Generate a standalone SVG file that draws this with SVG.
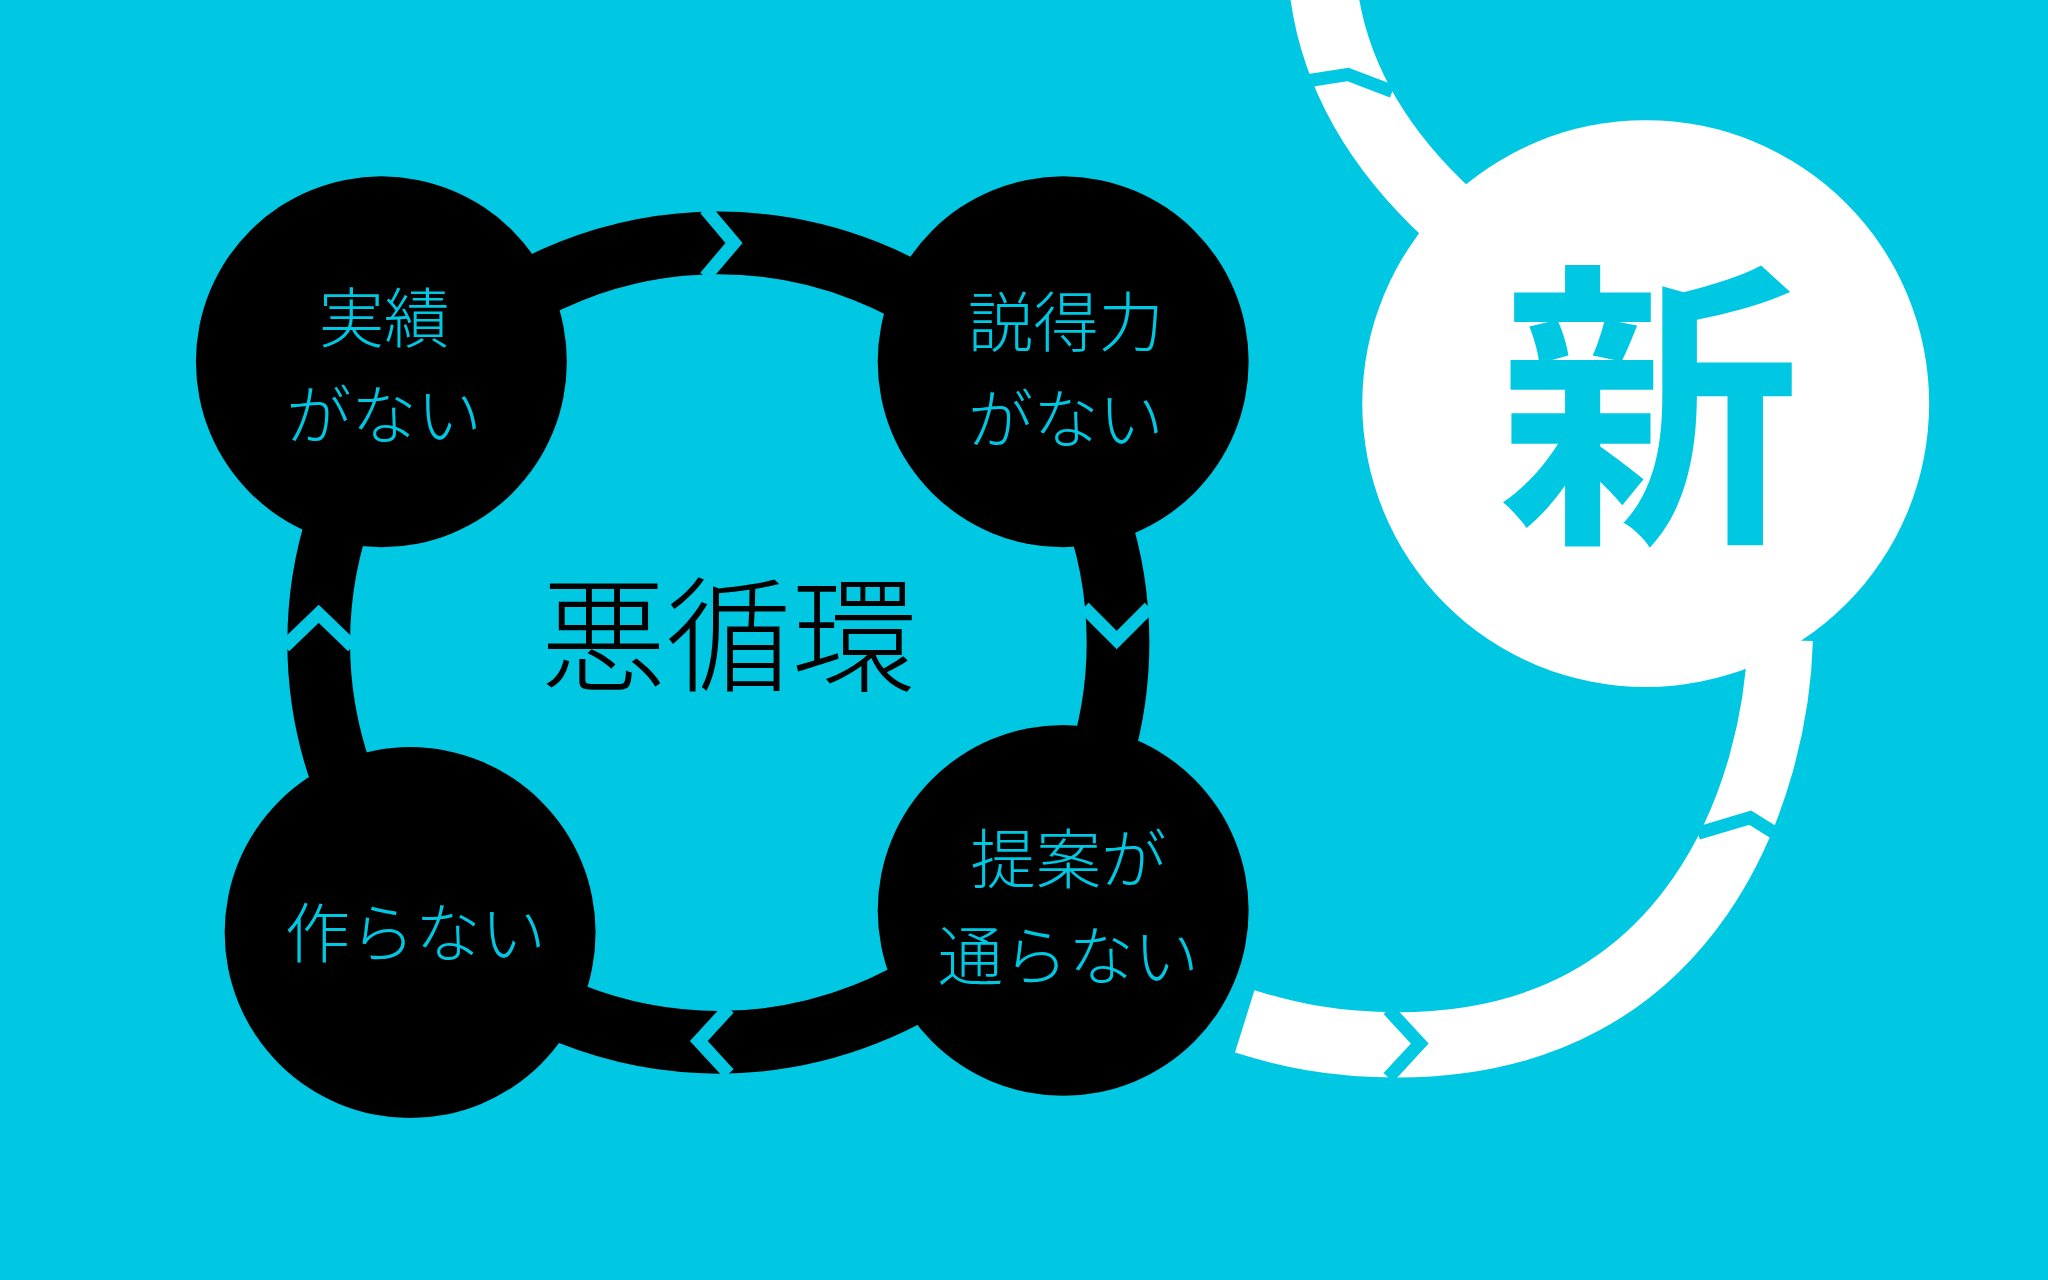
<svg xmlns="http://www.w3.org/2000/svg" width="2048" height="1280" viewBox="0 0 2048 1280">
<style>
.lbl{font-family:"Noto Sans CJK JP","Noto Sans",sans-serif;font-weight:300;fill:#00c8e3;font-size:50px;text-anchor:middle}
.gap{fill:none;stroke:#00c8e3;stroke-width:10}
</style>
<rect width="2048" height="1280" fill="#00c8e3"/>
<g transform="scale(1.30612)">
<g id="connectors">
<circle cx="550" cy="492" r="306" fill="none" stroke="#000" stroke-width="48"/>
<polyline class="gap" points="540,160 562,186 540,212"/>
<polyline class="gap" points="830,465 855,490 880,465"/>
<polyline class="gap" points="558,772 535,797 558,822"/>
<polyline class="gap" points="218,495 244,470 270,495"/>
<path d="M1013,-10 C1020,50 1050,110 1110,165" fill="none" stroke="#fff" stroke-width="52"/>
<path d="M1363,490 C1360,600 1300,800 1070,800 C1020,800 985,792 953,782" fill="none" stroke="#fff" stroke-width="50"/>
<polyline class="gap" points="1000,62 1032,57 1066,70"/>
<polyline class="gap" points="1300,638 1340,626 1372,646"/>
<polyline class="gap" points="1063,773 1087,799 1063,825"/>
</g>
<g id="n1"><circle cx="292" cy="277" r="142" fill="#000"/><text class="lbl" x="294" y="262">実績</text><text class="lbl" x="294" y="336">がない</text></g>
<g id="n2"><circle cx="814" cy="277" r="142" fill="#000"/><text class="lbl" x="816" y="265">説得力</text><text class="lbl" x="816" y="339">がない</text></g>
<g id="n3"><circle cx="814" cy="697" r="142" fill="#000"/><text class="lbl" x="818" y="676">提案が</text><text class="lbl" x="818" y="750">通らない</text></g>
<g id="n4"><circle cx="314" cy="714" r="142" fill="#000"/><text class="lbl" x="318" y="733">作らない</text></g>
<g id="center"><text x="558" y="522" font-family="'Noto Sans CJK JP',sans-serif" font-weight="300" font-size="96" text-anchor="middle" fill="#000">悪循環</text></g>
<g id="new"><circle cx="1260" cy="309" r="217" fill="#fff"/><text x="1263" y="398" font-family="'Noto Sans CJK JP',sans-serif" font-weight="700" font-size="232" text-anchor="middle" fill="#00c8e3">新</text></g>
</g>
</svg>
